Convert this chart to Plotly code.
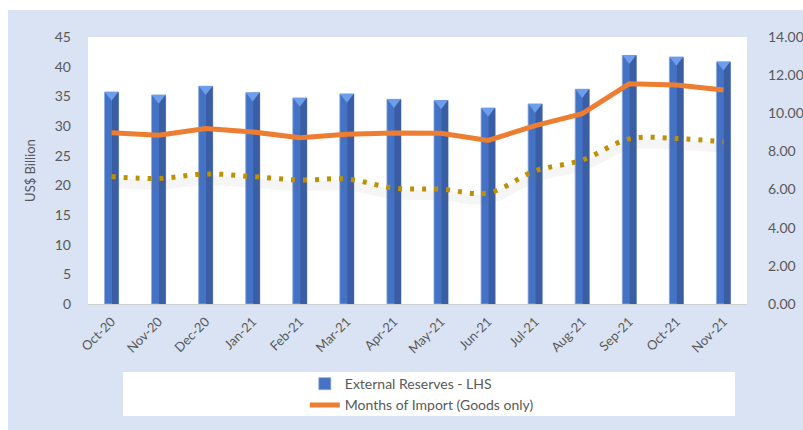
import plotly.graph_objects as go

# Data
months = ["Oct-20", "Nov-20", "Dec-20", "Jan-21", "Feb-21", "Mar-21", "Apr-21",
          "May-21", "Jun-21", "Jul-21", "Aug-21", "Sep-21", "Oct-21", "Nov-21"]
reserves = [35.7, 35.2, 36.7, 35.6, 34.7, 35.4, 34.5, 34.3, 33.0, 33.7, 36.2, 41.9, 41.6, 40.8]
import_goods = [8.98, 8.85, 9.2, 9.02, 8.72, 8.9, 8.96, 8.95, 8.58, 9.35, 9.98, 11.55, 11.48, 11.22]
import_gs = [6.68, 6.58, 6.82, 6.68, 6.5, 6.55, 6.08, 6.02, 5.82, 6.98, 7.55, 8.66, 8.68, 8.5]

grey = "#595959"
font = "Lato, Calibri, Arial, sans-serif"

fig = go.Figure()

# bars: lighter left face + darker right face
fig.add_trace(go.Bar(x=months, y=reserves, name="External Reserves - LHS",
                     width=0.3, marker=dict(color="#4472C4", line=dict(color="#8FAADC", width=0.8))))
fig.add_trace(go.Bar(x=months, y=reserves, width=0.14, offset=0.01, showlegend=False,
                     marker=dict(color="#3A5DA3", line=dict(width=0)), hoverinfo="skip"))
# light triangle caps
fig.add_trace(go.Scatter(x=months, y=[v - 0.45 for v in reserves], mode="markers", showlegend=False,
                         marker=dict(symbol="triangle-down", size=12, color="#6D9EEB"), hoverinfo="skip"))

# soft shadow under the dotted series
fig.add_trace(go.Scatter(x=months, y=[v - 0.32 for v in import_gs], yaxis="y2", mode="lines",
                         line=dict(color="rgba(110,110,110,0.07)", width=10, shape="spline"),
                         showlegend=False, hoverinfo="skip"))
fig.add_trace(go.Scatter(x=months, y=import_gs, yaxis="y2", mode="lines", showlegend=False,
                         name="Months of Import (Goods & Services)",
                         line=dict(color="#BF9000", width=5, dash="4px,8px", shape="spline")))
fig.add_trace(go.Scatter(x=months, y=import_goods, yaxis="y2", mode="lines",
                         name="Months of Import (Goods only)",
                         line=dict(color="#ED7D31", width=5)))

fig.update_layout(
    width=803, height=430,
    margin=dict(l=88, r=56, t=37, b=126, autoexpand=False),
    paper_bgcolor="#DAE3F3", plot_bgcolor="white",
    barmode="overlay",
    font=dict(family=font, size=14, color=grey),
    xaxis=dict(range=[-0.5, len(months) - 0.5], tickangle=-45, showgrid=False, showline=True,
               linecolor="#D0D0D0", ticklabelstandoff=4, tickfont=dict(size=13), automargin=False),
    yaxis=dict(range=[0, 45], dtick=5, showgrid=False, zeroline=False,
               ticklabelstandoff=16, automargin=False,
               title=dict(text="US$ Billion", font=dict(size=13, color=grey), standoff=16)),
    yaxis2=dict(range=[0, 14], dtick=2, tickformat=".2f", overlaying="y", side="right",
                showgrid=False, zeroline=False, ticklabelstandoff=20, automargin=False),
    legend=dict(x=0.329, xanchor="left", y=-0.24, yanchor="top", bgcolor="rgba(0,0,0,0)",
                font=dict(size=14, color=grey), tracegroupgap=2),
    shapes=[
        # white strip at the top and left
        dict(type="rect", xref="paper", yref="paper", x0=-0.2, x1=1.2, y0=1.101, y1=1.2,
             fillcolor="white", line=dict(width=0), layer="below"),
        dict(type="rect", xref="paper", yref="paper", x0=-0.2, x1=-0.1214, y0=-0.6, y1=1.2,
             fillcolor="white", line=dict(width=0), layer="below"),
        # legend box
        dict(type="rect", xref="paper", yref="paper", x0=0.0531, x1=0.9818, y0=-0.4195, y1=-0.2547,
             fillcolor="white", line=dict(width=0), layer="below"),
    ],
    annotations=[
        dict(text="<b>Figure 6: External Reserves and Months of Import Cover (US$, Billion)</b>",
             xref="paper", yref="paper", x=-0.135, y=1.19, xanchor="left", yanchor="middle",
             showarrow=False, font=dict(size=19, color="#2F5597")),
    ],
)

fig.write_html("out.html", config={"displayModeBar": False},
               post_script="document.body.style.margin='0';")
